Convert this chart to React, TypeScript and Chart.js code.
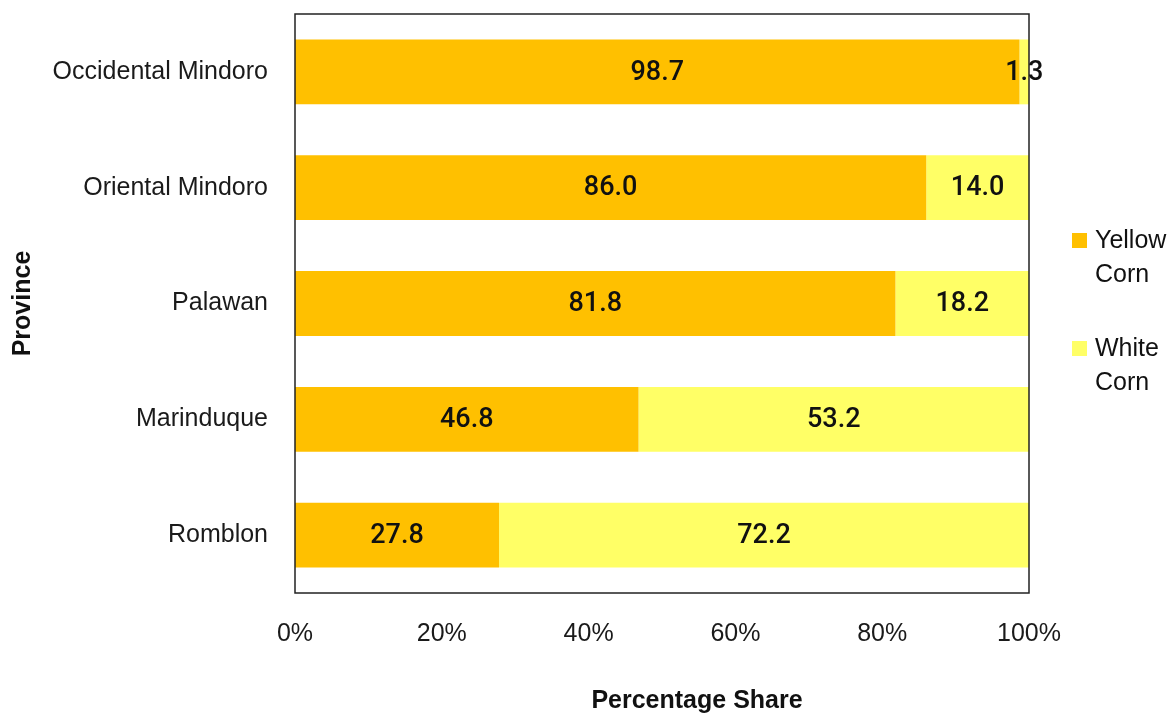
import React, { useEffect, useRef } from 'react';
import { Chart, registerables } from 'chart.js';

Chart.register(...registerables);

const provinces = ['Occidental Mindoro', 'Oriental Mindoro', 'Palawan', 'Marinduque', 'Romblon'];
const yellowCorn = [98.7, 86.0, 81.8, 46.8, 27.8];
const whiteCorn = [1.3, 14.0, 18.2, 53.2, 72.2];
const seriesNames = ['Yellow Corn', 'White Corn'];
const seriesColors = ['#FFC000', '#FFFF66'];
const xAxisTitle = 'Percentage Share';
const yAxisTitle = 'Province';

const W = 1173;
const H = 716;

const framePlugin = {
  id: 'frame',
  afterDatasetsDraw(chart: any) {
    const { ctx, chartArea } = chart;
    ctx.save();
    ctx.strokeStyle = '#222';
    ctx.lineWidth = 1.5;
    ctx.strokeRect(chartArea.left, chartArea.top, chartArea.right - chartArea.left, chartArea.bottom - chartArea.top);
    ctx.restore();
  },
};

const labelsPlugin = {
  id: 'barLabels',
  afterDraw(chart: any) {
    const { ctx } = chart;
    ctx.save();
    ctx.font = '500 27px Roboto';
    ctx.fillStyle = '#111';
    ctx.textAlign = 'center';
    ctx.textBaseline = 'middle';
    chart.data.datasets.forEach((ds: any, i: number) => {
      const meta = chart.getDatasetMeta(i);
      meta.data.forEach((bar: any, j: number) => {
        const p = bar.getProps(['x', 'y', 'base'], true);
        ctx.fillText(Number(ds.data[j]).toFixed(1), (p.x + p.base) / 2, p.y + 1);
      });
    });
    ctx.restore();
  },
};

const decorPlugin = {
  id: 'decor',
  afterDraw(chart: any) {
    const { ctx, chartArea } = chart;
    ctx.save();
    ctx.fillStyle = '#111';
    ctx.font = 'bold 25px "Liberation Sans", Arial, sans-serif';
    ctx.textAlign = 'center';
    ctx.textBaseline = 'middle';
    ctx.fillText(xAxisTitle, (chartArea.left + chartArea.right) / 2 + 35, 701);
    ctx.save();
    ctx.translate(23, (chartArea.top + chartArea.bottom) / 2);
    ctx.rotate(-Math.PI / 2);
    ctx.fillText(yAxisTitle, 0, 0);
    ctx.restore();
    ctx.font = '25px "Liberation Sans", Arial, sans-serif';
    ctx.textAlign = 'left';
    const legendTops = [240, 348];
    seriesNames.forEach((name, i) => {
      const cy = legendTops[i];
      ctx.fillStyle = seriesColors[i];
      ctx.fillRect(1072, cy - 7, 15, 15);
      ctx.fillStyle = '#111';
      const words = name.split(' ');
      words.forEach((w, k) => ctx.fillText(w, 1095, cy + 1 + k * 34));
    });
    ctx.restore();
  },
};

export default function App() {
  const ref = useRef<HTMLCanvasElement | null>(null);

  useEffect(() => {
    document.body.style.margin = '0';
    const canvas = ref.current;
    if (!canvas) return;
    const chart = new Chart(canvas, {
      type: 'bar',
      data: {
        labels: provinces,
        datasets: [
          { label: seriesNames[0], data: yellowCorn, backgroundColor: seriesColors[0], borderWidth: 0, barPercentage: 0.56, categoryPercentage: 1 },
          { label: seriesNames[1], data: whiteCorn, backgroundColor: seriesColors[1], borderWidth: 0, barPercentage: 0.56, categoryPercentage: 1 },
        ],
      },
      options: {
        indexAxis: 'y',
        responsive: false,
        animation: false,
        devicePixelRatio: 1,
        layout: { padding: { top: 14, right: 144, left: 0, bottom: 0 } },
        plugins: { legend: { display: false }, tooltip: { enabled: false } },
        scales: {
          x: {
            stacked: true,
            min: 0,
            max: 100,
            grid: { display: false },
            border: { display: false },
            ticks: {
              stepSize: 20,
              padding: 18,
              color: '#1a1a1a',
              font: { family: '"Liberation Sans", Arial, sans-serif', size: 25 },
              callback: (v: any) => v + '%',
              maxRotation: 0,
            },
            afterFit: (scale: any) => { scale.height = 123; },
          },
          y: {
            stacked: true,
            grid: { display: false },
            border: { display: false },
            ticks: {
              padding: 19,
              color: '#1a1a1a',
              font: { family: '"Liberation Sans", Arial, sans-serif', size: 25 },
            },
            afterFit: (scale: any) => { scale.width = 295; scale.paddingTop = 0; scale.paddingBottom = 0; },
          },
        },
      },
      plugins: [framePlugin, labelsPlugin, decorPlugin],
    } as any);
    return () => chart.destroy();
  }, []);

  return (
    <div style={{ position: 'fixed', left: 0, top: 0, width: W, height: H }}>
      <canvas ref={ref} width={W} height={H} style={{ width: W, height: H }} />
    </div>
  );
}
